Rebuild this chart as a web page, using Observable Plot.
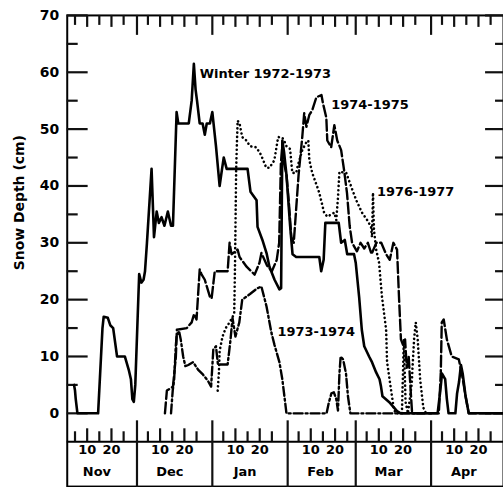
<!DOCTYPE html>
<html><head><meta charset="utf-8">
<script src="https://cdn.jsdelivr.net/npm/d3@7"></script>
<script src="https://cdn.jsdelivr.net/npm/@observablehq/plot@0.6"></script>
<style>html,body{margin:0;padding:0;background:#fff;overflow:hidden}</style>
</head><body><div id="chart"></div>
<script>
// Day number: Nov 1 = 1 ... Apr 30 = 181
const monthNames = ["Nov", "Dec", "Jan", "Feb", "Mar", "Apr"];
const monthStart = [1, 31, 62, 93, 121, 152];
const tickDaysInMonth = [5, 10, 15, 20, 25];
const labelDaysInMonth = [10, 20];
const yMajor = [0, 10, 20, 30, 40, 50, 60, 70];
const yMinor = [5, 15, 25, 35, 45, 55, 65];

const days1972 = [4.6,5.0,5.3,6,14.5,16.3,16.8,18.5,19.5,20.7,22.3,25.5,27.2,28,28.6,29.2,29.8,31.4,32.3,33.2,33.8,34.6,36.5,37.5,38.6,39.5,40.6,41.8,43.2,44.5,45.3,46.8,47.5,48.1,51.8,53,53.9,54.6,55.2,56.3,57.5,58.4,59.2,60.5,61.5,63,64.5,65.5,66.2,67.4,76,77.2,79.7,80.1,82.1,83.8,85,87.1,89.1,89.8,90.3,91,92,93.5,94.5,96,105.5,106.3,107.3,108,113.5,114.5,116,117,119.8,120.5,121.9,123,124,126,127.2,128.9,130.3,130.9,131.5,134.2,137.5,139,154.2,155.3,156,157.3,158,158.7,161.5,162.2,163,163.8,164.5,165.7,167,181];
const depth1972 = [5,4,2.5,0,0,15,17,16.8,15.5,15,10,10,7.5,6,2.5,2,5,24.5,23,23.5,25,30,43,31,35.5,33.5,34.5,33,35.5,33,33,53,51,51,51,55,61.5,57,55,51,51,49,51,51,53,47,40,43,45,43,43,39,37.5,32.8,30.5,28.2,25.8,23.5,21.8,22,48,46,42,33,28,27.5,27.5,25,27,33.5,33.5,30,30.5,28,28,26.5,20.5,14.7,11.8,10,9,7.2,6,4.7,3,2,0.4,0,0,4,7,6,2.5,0,0,3.5,5.5,8.5,7,3,0,0];

const days1973 = [44.5,45.2,45.8,46.5,46.8,47.8,48.5,49.5,50.4,51.6,53.6,55.6,57.7,59.7,61,61.9,63,63.8,67.8,69,69.8,71,72.6,73.8,77,80,81.7,83.8,85.8,87.1,89.1,90.3,92,108.5,109.5,110.5,111.5,112.5,113.2,113.8,114.3,115.3,116.5,117.3,118.3,152];
const depth1973 = [0,4,6,12,13.5,14.5,13,10,8.3,8.5,9,7.7,6.8,5.7,4.7,11.2,11.8,8.6,8.6,13,16.8,13.5,16,20,21,22,22.3,18.8,14.2,12,9,6,0,0,2,3.5,3.7,2.5,0.5,7,10,9.5,7,3,0,0];

const days1974 = [42,42.8,45.3,46.5,46.9,51,53,54,55,56.3,57,58.4,60.5,61.2,62.5,67.8,68.6,69.4,71.9,72.7,75.6,78.9,80.9,81.7,84,86,88,89,89.7,90.3,91,92,93,94,95,96,97,98.5,99.3,100.2,101.4,102.6,104.3,106.4,107,108.4,108.8,110.4,111.7,112.9,114.5,115.7,116.9,118,119,121,122.5,124,125.5,127,129,131,133,134.5,136,137.5,138.3,139.1,140,140.8,141.5,142.3,143,143.7,154.7,155.5,155.9,156.7,158,160,162.9,164.1,165.7,167,181];
const depth1974 = [0,4,4.7,10,14.7,15,16,17.5,16.5,25.3,24.5,23.5,20.5,20.2,25,25,30,28,28.8,27.5,25.8,24.4,26.5,28.2,26,25,27,30,44,47,44,42,37,31,30,36,42,48.6,52.8,50.4,52.5,53.3,55.6,56,54.6,52,48,46.8,50.7,48,46.3,42.8,38.8,33,30,28.5,30,29,30,28,30,30,28,27,30,28.8,20.5,13,12,13,8,10,4.7,0,0,7.2,16,16.5,13,10,9.5,7.2,3,0,0];

const days1976 = [63.7,64.2,64.5,65.7,67,68.6,70.5,70.8,71,71.3,71.9,72.7,73.8,75.5,77,79.6,81.5,83.7,85,87,88.6,90.3,91,92,93.5,94.4,96,96.5,98.5,100.2,101,101.4,102.6,104.7,105.5,107.5,108.8,111.7,112.5,113.2,113.8,116.6,118.7,120.7,123.1,125.2,126.8,127.2,127.6,128,128.9,130.1,131.3,133,133.4,135,136.2,137,139.5,140.3,141,142,143.5,144.5,145.2,146,147,148.3,149.4];
const depth1976 = [4,7,11,13.5,15,16,17.5,25,32,43,51.5,51,48.6,48,47,46.8,45.5,43.2,43.2,44.5,48.6,48.5,48,47,46.5,42.3,42.3,43.3,46.3,47.7,48,44.6,42.3,39.8,38.8,35.3,34.6,35.3,34,38,42.5,42.3,39.8,37.5,35.3,34,32.8,31,38.8,32.3,28.8,26.5,20.5,14.7,9,4.2,0.7,0,0,13,2,0,5,13,16,13,6,1,0];

const seasonLabels = ["Winter 1972-1973", "1973-1974", "1974-1975", "1976-1977"];
const labelAnchorDay = [53.9, 87.1, 104.3, 127.6];

const zip = (ts, vs) => ts.map((t, i) => ({t, v: vs[i]}));
const s1972 = zip(days1972, depth1972);
const s1973 = zip(days1973, depth1973);
const s1974 = zip(days1974, depth1974);
const s1976 = zip(days1976, depth1976);
const seriesList = [s1972, s1973, s1974, s1976];
const anchors = seriesList.map((s, i) => ({...s.find(d => d.t === labelAnchorDay[i]), label: seasonLabels[i]}));

const boundaries = monthStart.slice(1).map(d => d - 0.5);
const ticks10 = monthStart.flatMap(m => labelDaysInMonth.map(d => m + d - 1));
const ticks5 = monthStart.flatMap(m => tickDaysInMonth.filter(d => !labelDaysInMonth.includes(d)).map(d => m + d - 1));
const dayLabels = monthStart.flatMap(m => labelDaysInMonth.map(d => ({t: m + d - 1, label: String(d)})));
const months = monthNames.map((n, i) => ({t: monthStart[i] + 13, label: n}));

// layout
const W = 505, H = 489, mL = 67, mR = 0, mT = 15, mB = 46;
const xDom = [1.8, 181.3], yDom = [-5, 70];
const fw = W - mL - mR, fh = H - mT - mB;

const font = "DejaVu Sans";
const txt = {fontFamily: font, fontWeight: "bold", fill: "black"};
const lineOpts = {x: "t", y: "v", stroke: "black", strokeWidth: 2.4, strokeLinejoin: "round"};
const tk = {stroke: "#111111", strokeWidth: 2.2};

const chart = Plot.plot({
  width: W, height: H,
  marginLeft: mL, marginRight: mR, marginTop: mT, marginBottom: mB,
  x: {type: "linear", domain: xDom, axis: null},
  y: {type: "linear", domain: yDom, axis: null},
  marks: [
    Plot.frame({stroke: "black", strokeWidth: 2, insetBottom: -45}),
    Plot.ruleY([yDom[0]], {stroke: "black", strokeWidth: 2}),
    // inward ticks
    Plot.tickY(yMajor, {y: d => d, insetRight: fw - 21, ...tk}),
    Plot.tickY(yMinor, {y: d => d, insetRight: fw - 11, ...tk}),
    Plot.tickY(yMajor, {y: d => d, insetLeft: fw - 18, ...tk}),
    Plot.tickY(yMinor, {y: d => d, insetLeft: fw - 8, ...tk}),
    Plot.tickX(boundaries, {x: d => d, insetBottom: fh - 20, ...tk}),
    Plot.tickX(ticks10, {x: d => d, insetBottom: fh - 12, ...tk}),
    Plot.tickX(ticks5, {x: d => d, insetBottom: fh - 10, ...tk}),
    Plot.tickX(boundaries, {x: d => d, insetTop: fh - 21, insetBottom: -46, ...tk}),
    Plot.tickX(ticks10, {x: d => d, insetTop: fh - 13, ...tk}),
    Plot.tickX(ticks5, {x: d => d, insetTop: fh - 10, ...tk}),
    // labels
    Plot.text(yMajor, {y: d => d, text: d => String(d), frameAnchor: "left", textAnchor: "end", dx: -8, fontSize: 14, ...txt}),
    Plot.text(dayLabels, {x: "t", text: "label", frameAnchor: "bottom", dy: 12, fontSize: 13, ...txt}),
    Plot.text(months, {x: "t", text: "label", frameAnchor: "bottom", dy: 34, fontSize: 13, ...txt}),
    Plot.text(["Snow Depth (cm)"], {text: d => d, frameAnchor: "left", textAnchor: "middle", rotate: -90, dx: -48, dy: -26, fontSize: 14, ...txt}),
    // series
    Plot.line(s1972, {...lineOpts, strokeWidth: 2.6}),
    Plot.line(s1973, {...lineOpts, strokeDasharray: "9,3,2,3"}),
    Plot.line(s1974, {...lineOpts, strokeDasharray: "11,3.5"}),
    Plot.line(s1976, {...lineOpts, strokeWidth: 2.6, strokeDasharray: "0.1,4.2", strokeLinecap: "round"}),
    // season labels
    Plot.text([anchors[0]], {x: "t", y: "v", text: "label", textAnchor: "start", dx: 6, dy: 10, fontSize: 13, ...txt}),
    Plot.text([anchors[1]], {x: "t", y: "v", text: "label", textAnchor: "start", dx: 3, dy: -13, fontSize: 13, ...txt}),
    Plot.text([anchors[2]], {x: "t", y: "v", text: "label", textAnchor: "start", dx: 15, dy: 8, fontSize: 13, ...txt}),
    Plot.text([anchors[3]], {x: "t", y: "v", text: "label", textAnchor: "start", dx: 4, dy: -1, fontSize: 13, ...txt})
  ]
});
document.getElementById("chart").appendChild(chart);
</script>
</body></html>
